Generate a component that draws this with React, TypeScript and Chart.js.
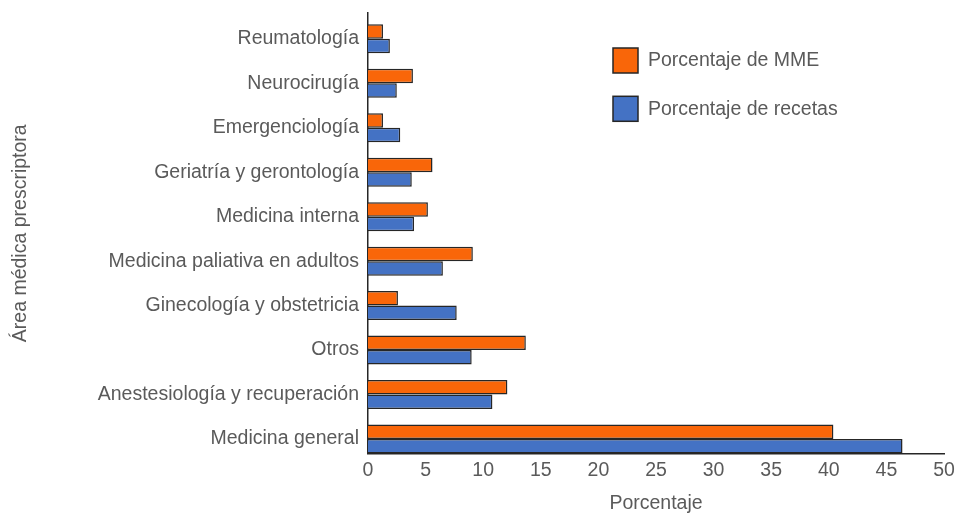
import React, { useEffect, useRef } from "react";
import { Chart, registerables } from "chart.js";

Chart.register(...registerables);

const categories = [
  "Reumatología",
  "Neurocirugía",
  "Emergenciología",
  "Geriatría y gerontología",
  "Medicina interna",
  "Medicina paliativa en adultos",
  "Ginecología y obstetricia",
  "Otros",
  "Anestesiología y recuperación",
  "Medicina general",
];

const porcentajeMME = [1.3, 3.9, 1.3, 5.6, 5.2, 9.1, 2.6, 13.7, 12.1, 40.4];
const porcentajeRecetas = [1.9, 2.5, 2.8, 3.8, 4.0, 6.5, 7.7, 9.0, 10.8, 46.4];

const seriesLabels = ["Porcentaje de MME", "Porcentaje de recetas"];
const xTicks = [0, 5, 10, 15, 20, 25, 30, 35, 40, 45, 50];

const ORANGE = "#F96609";
const BLUE = "#4472C4";
const BORDER = "#262626";
const TEXT = "#5a5a5a";
const FONT = "'Liberation Sans', Arial, sans-serif";
const FS = 19.5;

const legendPlugin = {
  id: "insideLegend",
  afterDraw(chart: any) {
    const { ctx, chartArea } = chart;
    const x0 = chartArea.left + 245;
    const y0 = chartArea.top + 35;
    ctx.save();
    chart.data.datasets.forEach((ds: any, i: number) => {
      const y = y0 + i * 48.3;
      ctx.fillStyle = ds.backgroundColor;
      ctx.fillRect(x0, y, 25, 25);
      ctx.lineWidth = 1.5;
      ctx.strokeStyle = BORDER;
      ctx.strokeRect(x0, y, 25, 25);
      ctx.fillStyle = TEXT;
      ctx.font = `${FS}px ${FONT}`;
      ctx.textBaseline = "middle";
      ctx.textAlign = "left";
      ctx.fillText(ds.label, x0 + 35, y + 13);
    });
    ctx.restore();
  },
};

export default function App() {
  const ref = useRef<HTMLCanvasElement>(null);

  useEffect(() => {
    if (!ref.current) return;
    const toPoints = (arr: number[]) => arr.map((v, i) => ({ x: v, y: i }));
    const chart = new Chart(ref.current, {
      type: "bar",
      data: {
        datasets: [
          {
            label: seriesLabels[0],
            data: toPoints(porcentajeMME),
            backgroundColor: ORANGE,
            borderColor: BORDER,
            borderWidth: 1.5,
            categoryPercentage: 0.652,
            barPercentage: 1,
          },
          {
            label: seriesLabels[1],
            data: toPoints(porcentajeRecetas),
            backgroundColor: BLUE,
            borderColor: BORDER,
            borderWidth: 1.5,
            categoryPercentage: 0.652,
            barPercentage: 1,
          },
        ] as any,
      },
      options: {
        indexAxis: "y",
        animation: false,
        responsive: false,
        maintainAspectRatio: false,
        layout: { padding: { left: 0, top: 13, right: 12, bottom: 0 } },
        plugins: {
          legend: { display: false },
          tooltip: { enabled: false },
        },
        scales: {
          x: {
            type: "linear",
            min: 0,
            max: 50,
            afterBuildTicks: (scale: any) => {
              scale.ticks = xTicks.map((v) => ({ value: v }));
            },
            afterFit: (scale: any) => {
              scale.height = 61.5;
              scale.paddingLeft = 0;
              scale.paddingRight = 0;
            },
            grid: { display: false, drawTicks: false },
            border: { display: true, color: BORDER, width: 1.5 },
            ticks: {
              color: TEXT,
              font: { family: FONT, size: FS },
              padding: 5,
              maxRotation: 0,
              autoSkip: false,
            },
            title: {
              display: true,
              text: "Porcentaje",
              color: TEXT,
              font: { family: FONT, size: FS },
              padding: { top: 4, bottom: 0 },
            },
          },
          y: {
            type: "linear",
            reverse: true,
            offset: false,
            min: -0.58,
            max: 9.326,
            afterBuildTicks: (scale: any) => {
              scale.ticks = categories.map((_, i) => ({ value: i }));
            },
            afterFit: (scale: any) => {
              scale.width = 368;
              scale.paddingTop = 0;
              scale.paddingBottom = 0;
            },
            grid: { display: false, drawTicks: false, offset: false },
            border: { display: true, color: BORDER, width: 1.5 },
            ticks: {
              color: TEXT,
              font: { family: FONT, size: FS },
              padding: 9,
              autoSkip: false,
              callback: (v: any) => categories[v as number] ?? "",
            },
            title: {
              display: true,
              text: "Área médica prescriptora",
              color: TEXT,
              font: { family: FONT, size: FS },
              padding: { top: 9, bottom: 0 },
            },
          },
        },
      } as any,
      plugins: [legendPlugin],
    });
    return () => chart.destroy();
  }, []);

  return (
    <div style={{ position: "fixed", left: 0, top: 0, width: 956, height: 515, background: "#fff" }}>
      <canvas ref={ref} width={956} height={515} style={{ display: "block" }} />
    </div>
  );
}
